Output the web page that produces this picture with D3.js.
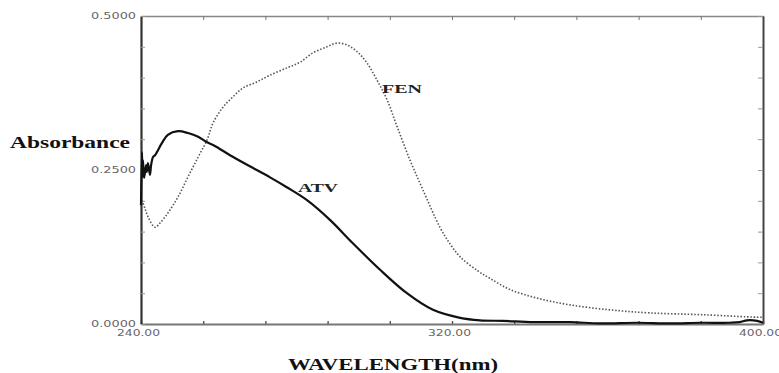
<!DOCTYPE html>
<html>
<head>
<meta charset="utf-8">
<style>
  body { margin: 0; background: #fff; }
  svg { display: block; }
</style>
</head>
<body>
<svg id="chart" width="779" height="373"></svg>

<script src="https://d3js.org/d3.v7.min.js"></script>
<script>
  // ATV spectrum (solid line)
  var atvWavelength = [240.0, 240.26, 240.4, 240.5, 240.8, 241.3, 241.5, 241.8, 242.3, 242.6, 243.1, 243.6, 244.1,
    245.4, 246.9, 249.5, 252.1, 254.7, 257.0, 259.0, 262.9, 268.0, 273.2, 277.5, 282.7, 288.6, 294.5,
    301.5, 308.4, 315.1, 322.1, 327.2, 333.1, 341.0, 350.4, 358.0, 367.6, 376.0, 384.0, 391.5, 394.0,
    395.9, 398.5, 400.0];
  var atvAbsorbance = [0.193, 0.279, 0.239, 0.266, 0.237, 0.258, 0.247, 0.261, 0.242, 0.258, 0.271, 0.274, 0.279,
    0.294, 0.307, 0.313, 0.310, 0.304, 0.295, 0.289, 0.274, 0.256, 0.238, 0.222, 0.201, 0.169, 0.131,
    0.088, 0.050, 0.023, 0.010, 0.006, 0.005, 0.003, 0.003, 0.001, 0.002, 0.001, 0.002, 0.002, 0.003,
    0.006, 0.005, 0.002];

  // FEN spectrum (dotted line)
  var fenWavelength = [240.26, 241.0, 241.8, 243.6, 244.9, 246.9, 249.5, 252.1, 254.7, 257.0, 258.5, 261.1,
    263.7, 266.2, 269.8, 273.2, 277.6, 280.9, 284.2, 287.8, 290.4, 293.0, 295.6, 298.1, 300.7, 303.3,
    305.9, 309.2, 312.5, 316.9, 319.5, 322.1, 326.7, 329.8, 334.9, 341.9, 350.4, 360.6, 370.9, 384.6, 398.5, 400.0];
  var fenAbsorbance = [0.201, 0.188, 0.174, 0.157, 0.164, 0.180, 0.206, 0.239, 0.271, 0.299, 0.326, 0.352,
    0.369, 0.383, 0.393, 0.404, 0.416, 0.425, 0.440, 0.450, 0.456, 0.453, 0.442, 0.424, 0.396, 0.364,
    0.320, 0.266, 0.218, 0.157, 0.130, 0.109, 0.086, 0.074, 0.056, 0.042, 0.031, 0.023, 0.018, 0.015, 0.011, 0.011];

  // tick labels
  var xLabels = [240, 320, 400];
  var yLabels = [0, 0.25, 0.5];

  // plot box
  var margin = { top: 16, right: 16, bottom: 49, left: 141 },
    width = 779 - margin.left - margin.right,
    height = 373 - margin.top - margin.bottom;

  var svg = d3.select("#chart")
    .append("g")
    .attr("transform", "translate(" + margin.left + "," + margin.top + ")");

  var x = d3.scaleLinear().domain([240, 400]).range([0, width]);
  var y = d3.scaleLinear().domain([0, 0.5]).range([height, 0]);

  var xTicks = d3.range(0, 11).map(function (i) { return 240 + i * 16; });
  var yTicks = d3.range(0, 11).map(function (i) { return i * 0.05; });

  function near(list, v) {
    return list.some(function (l) { return Math.abs(l - v) < 1e-6; });
  }

  // top and right frame (ticks only)
  svg.append("g")
    .call(d3.axisTop(x).tickValues(xTicks).tickSize(-4).tickSizeOuter(0).tickFormat(""))
    .call(function (g) {
      g.select(".domain").attr("stroke", "#888").attr("stroke-width", 1.3);
      g.selectAll(".tick line").attr("stroke", "#777");
    });

  svg.append("g")
    .attr("transform", "translate(" + width + ",0)")
    .call(d3.axisRight(y).tickValues(yTicks).tickSize(-5).tickSizeOuter(0).tickFormat(""))
    .call(function (g) {
      g.select(".domain").attr("stroke", "#444").attr("stroke-width", 2);
      g.selectAll(".tick line").attr("stroke", "#999");
    });

  // bottom axis
  svg.append("g")
    .attr("transform", "translate(0," + height + ")")
    .call(d3.axisBottom(x).tickValues(xTicks).tickSize(-3).tickSizeOuter(0).tickPadding(6)
      .tickFormat(function (d) { return near(xLabels, d) ? d3.format(".2f")(d) : ""; }))
    .call(function (g) {
      g.select(".domain").attr("stroke", "#777").attr("stroke-width", 2);
      g.selectAll(".tick line").attr("stroke", "#555").attr("stroke-width", 1.4);
      g.selectAll(".tick text")
        .attr("font-family", "'DejaVu Sans', sans-serif")
        .attr("font-size", 8)
        .attr("fill", "#666")
        .attr("dx", -3)
        .filter(function (d) { return near(xLabels, d); })
        .attr("textLength", 43)
        .attr("lengthAdjust", "spacingAndGlyphs");
    });

  // left axis
  svg.append("g")
    .call(d3.axisLeft(y).tickValues(yTicks).tickSize(-4).tickSizeOuter(0).tickPadding(5)
      .tickFormat(function (d) { return near(yLabels, d) ? d3.format(".4f")(d) : ""; }))
    .call(function (g) {
      g.select(".domain").attr("stroke", "#333").attr("stroke-width", 2.2);
      g.selectAll(".tick line").attr("stroke", "#999");
      g.selectAll(".tick text")
        .attr("font-family", "'DejaVu Sans', sans-serif")
        .attr("font-size", 8)
        .attr("fill", "#666")
        .filter(function (d) { return near(yLabels, d); })
        .attr("textLength", 45)
        .attr("lengthAdjust", "spacingAndGlyphs");
    });

  // spectra
  var line = d3.line()
    .x(function (d) { return x(d[0]); })
    .y(function (d) { return y(d[1]); })
    .curve(d3.curveCatmullRom.alpha(0.5));

  var fen = d3.zip(fenWavelength, fenAbsorbance);
  var atv = d3.zip(atvWavelength, atvAbsorbance);

  svg.append("path")
    .datum(fen)
    .attr("d", line)
    .attr("fill", "none")
    .attr("stroke", "#555")
    .attr("stroke-width", 1.6)
    .attr("stroke-dasharray", "1.5,1.8");

  svg.append("path")
    .datum(atv)
    .attr("d", line)
    .attr("fill", "none")
    .attr("stroke", "#111")
    .attr("stroke-width", 2.2)
    .attr("stroke-linejoin", "round");

  // curve labels
  svg.append("text")
    .attr("x", x(302)).attr("y", y(0.375))
    .attr("font-family", "'Liberation Serif', serif").attr("font-weight", "bold")
    .attr("font-size", 13).attr("fill", "#222")
    .attr("textLength", 40).attr("lengthAdjust", "spacingAndGlyphs")
    .text("FEN");

  svg.append("text")
    .attr("x", x(280.4)).attr("y", y(0.214))
    .attr("font-family", "'Liberation Serif', serif").attr("font-weight", "bold")
    .attr("font-size", 13).attr("fill", "#222")
    .attr("textLength", 40).attr("lengthAdjust", "spacingAndGlyphs")
    .text("ATV");

  // axis titles
  var root = d3.select("#chart");
  root.append("text")
    .attr("x", 10).attr("y", 148)
    .attr("font-family", "'Liberation Serif', serif").attr("font-weight", "bold")
    .attr("font-size", 16).attr("fill", "#111")
    .attr("textLength", 120).attr("lengthAdjust", "spacingAndGlyphs")
    .text("Absorbance");

  root.append("text")
    .attr("x", 288).attr("y", 370)
    .attr("font-family", "'Liberation Serif', serif").attr("font-weight", "bold")
    .attr("font-size", 16).attr("fill", "#111")
    .attr("textLength", 210).attr("lengthAdjust", "spacingAndGlyphs")
    .text("WAVELENGTH(nm)");
</script>
</body>
</html>
